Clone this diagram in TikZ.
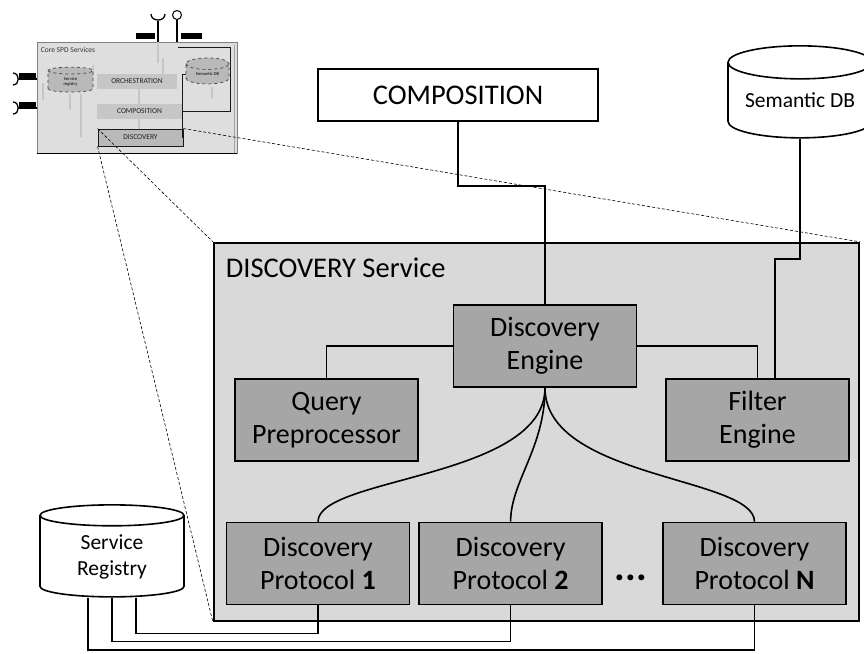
\documentclass[tikz,border=0pt]{standalone}
\usepackage{fontspec}
\setmainfont{Carlito}
\usepackage{tikz}
\usetikzlibrary{positioning,calc,shapes.geometric}

\definecolor{boxgray}{HTML}{A6A6A6}
\definecolor{svcgray}{HTML}{D9D9D9}
\definecolor{thumbgray}{HTML}{DEDEDE}

\begin{document}
\begin{tikzpicture}[x=1pt, y=-1pt, line width=1.6pt,
  box/.style = {rectangle, draw, fill=boxgray, minimum width=183pt, minimum height=82pt, align=center, inner sep=0pt, font=\fontsize{28}{33}\selectfont},
  db/.style = {cylinder, shape border rotate=90, aspect=0.3, draw, fill=white, minimum width=144pt, minimum height=92pt, align=center, inner sep=0pt, font=\fontsize{21.5}{26}\selectfont},
  zoomline/.style = {dashed, dash pattern=on 3pt off 2pt, line width=0.6pt},
  mini/.style = {rectangle, fill=gray!45, inner sep=0pt, font=\fontsize{7.5}{8}\selectfont, text=gray!25!black},
  minidb/.style = {cylinder, shape border rotate=90, aspect=0.5, draw=gray!50!black, dashed, line width=0.7pt, fill=gray!55, align=center, inner sep=0pt, font=\fontsize{4.5}{5}\selectfont},
  ghost/.style = {gray!45, line width=1.2pt},
  blob/.style = {rectangle, fill=black, minimum width=19pt, minimum height=6pt, inner sep=0pt}]

\useasboundingbox (0,0) rectangle (864,653);
\clip (0,0) rectangle (864,653);

% small overview of the core services
\node[rectangle, draw=gray, fill=thumbgray, line width=0.8pt, minimum width=200pt, minimum height=111pt] (thumb) at (137,97.5) {};
\draw[line width=1.6pt] (thumb.south west) -- (thumb.south east);
\draw[gray!70, line width=0.8pt] ([xshift=-3pt,yshift=-3pt]thumb.north east) -- ([xshift=-3pt]thumb.south east);
\node[anchor=west, inner sep=0pt, font=\fontsize{7.5}{8}\selectfont, text=gray!40!black] (thumblabel) at (40,50) {Core SPD Services};

\draw[ghost] (43,83) -- (43,100);
\draw[ghost] (70,94) -- (70,110);
\draw[ghost] (81,94) -- (81,137);
\draw[ghost] (93,65) -- (93,73);
\draw[ghost] (139,89) -- (139,104);
\draw[ghost] (139,119) -- (139,129);
\draw[ghost] (158,42) -- (158,63);
\draw[ghost] (163,58) -- (163,74);
\draw[ghost] (212,87) -- (212,98);

\node[mini, minimum width=80pt, minimum height=15pt] (orch) at (137,81.5) {ORCHESTRATION};
\node[mini, minimum width=85pt, minimum height=15pt] (mcomp) at (139.5,111.5) {COMPOSITION};
\node[mini, draw=gray!20!black, line width=0.9pt, fill=gray!55, minimum width=85pt, minimum height=17pt] (mdisc) at (140.5,137.5) {DISCOVERY};
\node[minidb, minimum width=45pt, minimum height=25pt] (mreg) at (70.5,81.5) {Service\\registry};
\node[minidb, minimum width=43pt, minimum height=26pt] (msdb) at (207.5,74) {Semantic DB};

\draw[line width=0.9pt, gray!20!black] (mcomp.east) -- (230,111.5) -- (230,47) -- (178,47);
\draw[line width=0.9pt, gray!20!black] (msdb.west) -- ++(-3,0) |- (mdisc.east);

% interfaces
\draw[line width=1.3pt] (158,42) -- (158,21);
\draw[line width=1.3pt] (151,14) .. controls (151,22) and (165,22) .. (165,14);
\draw[line width=1.3pt] (177,42) -- (177,20);
\draw[line width=1pt, fill=white] (177,15) circle[radius=4.5pt];
\node[blob] (lbl1) at (145.5,36) {};
\node[blob, minimum width=21pt] (lbl2) at (191.5,36) {};
\foreach \y in {79,108} {
  \draw[line width=1.3pt] (37,\y) -- (19,\y);
  \draw[line width=1.3pt] (13,\y-6) .. controls (20,\y-6) and (20,\y+6) .. (13,\y+6);
  \node[blob, minimum width=17pt, minimum height=5pt] at (27,\y-4) {};
}

% zoom lines
\node[rectangle, draw, fill=svcgray, line width=2.2pt, minimum width=645pt, minimum height=378pt] (svc) at (536.5,432) {};
\draw[zoomline] (mdisc.north west) -- (svc.north west);
\draw[zoomline] (mdisc.north east) -- (svc.north east);
\draw[zoomline] (mdisc.south west) -- (svc.south west);

\node[anchor=base west, inner sep=0pt, font=\fontsize{28.5}{33}\selectfont] (svclabel) at (225,277) {DISCOVERY Service};

\node[rectangle, draw, fill=white, minimum width=280pt, minimum height=52pt, font=\fontsize{28.5}{33}\selectfont] (comp) at (458,95) {COMPOSITION};
\node[db] (sdb) at (800,100.5) {Semantic DB};
\node[db] (reg) at (112,556.5) {Service\\Registry};

\node[box] (de) at (545,346) {Discovery\\Engine};
\node[box] (qp) at (326.5,420) {Query\\Preprocessor};
\node[box] (fe) at (757.5,420) {Filter\\Engine};
\node[box] (p1) at (318,563.5) {Discovery\\Protocol \textbf{1}};
\node[box] (p2) [right=8pt of p1] {Discovery\\Protocol \textbf{2}};
\node[box] (pn) at (754.5,563.5) {Discovery\\Protocol \textbf{N}};
\node[anchor=base, inner sep=0pt, font=\bfseries\fontsize{40}{40}\selectfont] (dots) at (631,580) {...};

\draw (comp.south) -- ++(0,64) -| (de.north);
\draw (sdb.south) -- (800,259) -| ([xshift=17.5pt]fe.north);
\draw (de.west) -| (qp.north);
\draw (de.east) -| (fe.north);
\draw (de.south) .. controls +(0,91) and +(0,-45) .. (p1.north);
\draw (de.south) .. controls +(0,60) and +(0,-40) .. (p2.north);
\draw (de.south) .. controls +(0,91) and +(0,-45) .. (pn.north);

\draw (p1.south) -- ++(0,28) -| ([xshift=24pt]reg.south);
\draw (p2.south) -- ++(0,36) -| (reg.south);
\draw (pn.south) -- ++(0,44.5) -| ([xshift=-24pt]reg.south);
\end{tikzpicture}
\end{document}
